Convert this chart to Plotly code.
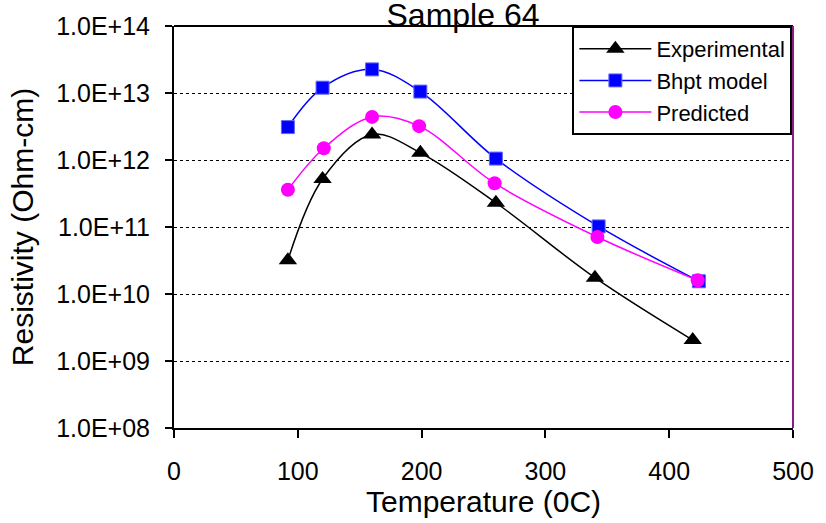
import plotly.graph_objects as go

# ---- data ----
exp_x = [92, 120, 160, 199, 260, 340, 419]
exp_y = [3.2e10, 5.2e11, 2.4e12, 1.28e12, 2.3e11, 1.75e10, 2.05e9]

bhpt_x = [92, 120, 160, 199, 260, 343, 424]
bhpt_y = [3.1e12, 1.2e13, 2.25e13, 1.05e13, 1.05e12, 1.02e11, 1.55e10]

pred_x = [92, 121, 160, 198, 259, 342, 423]
pred_y = [3.6e11, 1.5e12, 4.4e12, 3.2e12, 4.5e11, 7.1e10, 1.6e10]

series_names = ["Experimental", "Bhpt model", "Predicted"]
x_ticks = [0, 100, 200, 300, 400, 500]
y_tickvals = [1e8, 1e9, 1e10, 1e11, 1e12, 1e13, 1e14]
y_ticktext = ["1.0E+08", "1.0E+09", "1.0E+10", "1.0E+11", "1.0E+12", "1.0E+13", "1.0E+14"]

FONT = "Liberation Sans, Arial, sans-serif"

fig = go.Figure()
fig.add_trace(go.Scatter(
    x=exp_x, y=exp_y, name=series_names[0], mode="lines+markers",
    line=dict(color="black", width=1.5, shape="spline", smoothing=1),
    marker=dict(symbol="triangle-up", size=16, color="black"),
))
fig.add_trace(go.Scatter(
    x=bhpt_x, y=bhpt_y, name=series_names[1], mode="lines+markers",
    line=dict(color="#0000FF", width=1.5, shape="spline", smoothing=1),
    marker=dict(symbol="square", size=13, color="#0000FF",
                line=dict(color="#6666FF", width=1)),
))
fig.add_trace(go.Scatter(
    x=pred_x, y=pred_y, name=series_names[2], mode="lines+markers",
    line=dict(color="#FF00FF", width=1.5, shape="spline", smoothing=1),
    marker=dict(symbol="circle", size=14, color="#FF00FF"),
))

# plot-area frame: top and right edges
fig.add_shape(type="line", xref="paper", yref="paper", x0=0, x1=1, y0=1, y1=1,
              line=dict(color="black", width=2))
fig.add_shape(type="line", xref="paper", yref="paper", x0=1, x1=1, y0=0, y1=1,
              line=dict(color="#8B1A8B", width=2))

fig.update_layout(
    width=826, height=523,
    margin=dict(l=174, r=28, t=21, b=95),
    paper_bgcolor="white", plot_bgcolor="white",
    font=dict(family=FONT, color="black"),
    title=dict(text="Sample 64", font=dict(size=32, family=FONT, color="black"),
               x=463/826, xanchor="center", xref="container",
               y=1 - 4/523, yanchor="top", yref="container"),
    showlegend=True,
    legend=dict(x=0.999, y=1.0, xanchor="right", yanchor="top",
                bordercolor="black", borderwidth=2, bgcolor="white",
                font=dict(size=22, family=FONT), itemwidth=72,
                tracegroupgap=0),
    xaxis=dict(range=[0, 500], tickvals=x_ticks, ticks="outside", ticklen=8,
               tickwidth=2, tickcolor="black",
               showline=True, linecolor="black", linewidth=2, showgrid=False,
               zeroline=False, tickfont=dict(size=25, family=FONT),
               ticklabelstandoff=12,
               title=dict(text="Temperature (0C)", font=dict(size=30, family=FONT),
                          standoff=0)),
    yaxis=dict(type="log", range=[8, 14], tickvals=y_tickvals, ticktext=y_ticktext,
               ticks="outside", ticklen=7, tickwidth=2, tickcolor="black",
               showline=True, linecolor="black", linewidth=2,
               showgrid=True, gridcolor="black", gridwidth=1, griddash="dot",
               zeroline=False, tickfont=dict(size=25, family=FONT),
               ticklabelstandoff=10,
               title=dict(text="Resistivity (Ohm-cm)", font=dict(size=30, family=FONT),
                          standoff=14)),
)

fig.write_html("out.html")
